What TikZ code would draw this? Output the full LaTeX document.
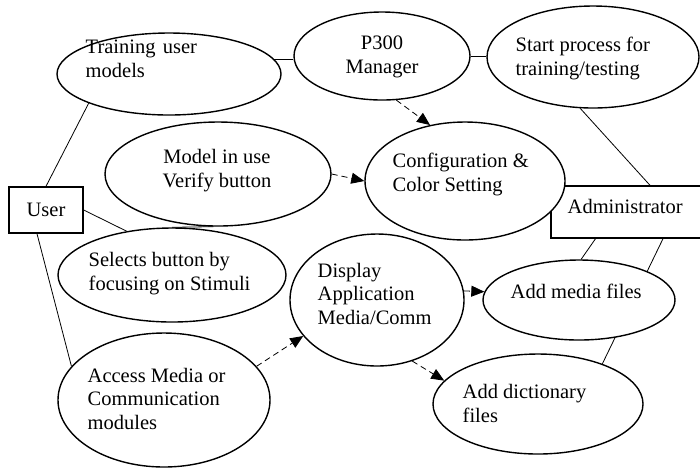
\documentclass[tikz,border=0pt]{standalone}
\usepackage{fontspec}
\setmainfont{Liberation Serif}
\usetikzlibrary{shapes.geometric, arrows.meta, backgrounds}

\begin{document}
\begin{tikzpicture}[x=0.5pt, y=-0.5pt, line width=0.7pt,
        font=\fontsize{10.25}{11.75}\selectfont,
        oval/.style 2 args={draw, ellipse, fill=white, inner sep=0pt,
            minimum width=#1, minimum height=#2},
        actor/.style 2 args={draw, rectangle, fill=white, inner sep=0pt,
            minimum width=#1, minimum height=#2},
        txt/.style={anchor=base west, align=left, inner sep=0pt},
        dasharrow/.style={-{Triangle[length=6.5pt, width=5.5pt]},
            dash pattern=on 3pt off 2pt}]
    \useasboundingbox (0, 0) rectangle (700, 468);

    % actors
    \node [actor={37pt}{23pt}] (user) at (46, 210) {User};
    \node [actor={80.5pt}{26pt}] (adm) at (631.5, 212) {};
    \node [txt] (adm-t) at (567, 213) {Administrator};

    % use cases
    \node [oval={112pt}{41pt}] (train) at (169, 74) {};
    \node [oval={88pt}{44pt}] (p300) at (382, 56) {};
    \node [oval={106pt}{51pt}] (start) at (593, 57) {};
    \node [oval={100pt}{59pt}] (cfg) at (465, 181) {};
    \node [oval={113pt}{52pt}] (mdl) at (218, 174) {};
    \node [oval={114pt}{47pt}] (sel) at (172, 275) {};
    \node [oval={106pt}{67pt}] (acc) at (164, 400) {};
    \node [oval={87pt}{66pt}] (disp) at (377, 300) {};
    \node [oval={96pt}{40pt}] (media) at (579, 300) {};
    \node [oval={105pt}{50pt}] (dict) at (538, 404) {};

    % labels (base = last line)
    \node [txt] (train-t) at (85, 77) {Training\hspace{3.6pt}user\\models};
    \node [txt, anchor=base, align=center] (p300-t) at (382, 73) {P300\\Manager};
    \node [txt] (start-t) at (515, 75) {Start process for\\training/testing};
    \node [txt] (cfg-t) at (392, 191) {Configuration \&\\Color Setting};
    \node [txt, anchor=base, align=center] (mdl-t) at (217, 187) {Model in use\\Verify button};
    \node [txt] (sel-t) at (88, 290) {Selects button by\\focusing on Stimuli};
    \node [txt] (acc-t) at (87, 429) {Access Media or\\Communication\\modules};
    \node [txt] (disp-t) at (317, 324) {Display\\Application\\Media/Comm};
    \node [txt] (media-t) at (510, 298) {Add media files};
    \node [txt] (dict-t) at (462, 422) {Add dictionary\\files};

    \begin{scope}[on background layer]
        % associations
        \draw (user.north) -- (train.200);
        \draw (user.east) -- (sel.136);
        \draw ([xshift=-4.5pt] user.south) -- (acc.160);
        \draw (mdl.265) -- (sel.north);
        \draw (train.8) -- (train.8 -| p300.west);
        \draw (p300.east) -- (p300.east -| start.west);
        \draw (start.256) -- ([xshift=9.25pt] adm.north);
        \draw ([xshift=-18pt] adm.south) -- (media.87);
        \draw ([xshift=15.75pt] adm.south) -- (dict.32);
        % includes
        \draw [dasharrow] (p300.288) -- (cfg.122);
        \draw [dasharrow] (mdl.east) -- (cfg.west);
        \draw [dasharrow] (acc.20) -- (disp.206);
        \draw [dasharrow] (disp.6) -- (media.175);
        \draw [dasharrow] (disp.300) -- (dict.166);
    \end{scope}
\end{tikzpicture}
\end{document}
